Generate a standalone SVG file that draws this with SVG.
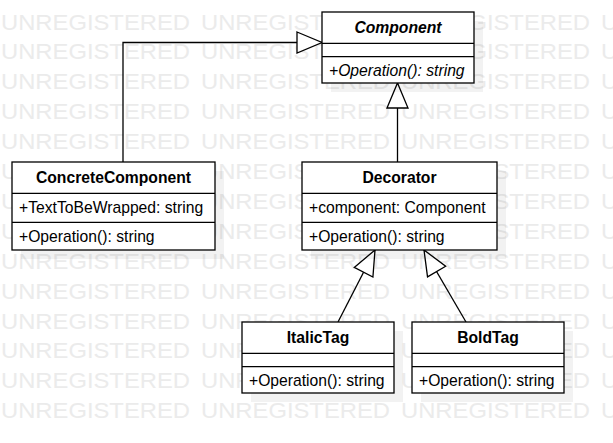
<svg xmlns="http://www.w3.org/2000/svg" width="613" height="443" viewBox="0 0 613 443">
<style>
.wm{font-family:"Liberation Sans",Arial,sans-serif;font-size:22.5px;fill:#ebebeb}
.box{fill:#fff;stroke:#000;stroke-width:1.3}
.sh{fill:#000;fill-opacity:0.05}
.div{stroke:#000;stroke-width:1.3}
.t{font-family:"Liberation Sans",Arial,sans-serif;font-size:15.7px;fill:#000}
.title{font-weight:bold;text-anchor:middle}
.it{font-style:italic}
.edge{fill:none;stroke:#000;stroke-width:1.3}
</style>
<defs>
<marker id="gen" markerUnits="userSpaceOnUse" markerWidth="30" markerHeight="26" viewBox="-27 -13 30 26" refX="0" refY="0" orient="auto" overflow="visible">
<path d="M-25,-10.5 L0,0 L-25,10.5 Z" fill="#fff" stroke="#000" stroke-width="1.3"/>
</marker>
</defs>
<rect width="613" height="443" fill="#fff"/>
<g id="watermark">
<text class="wm" x="1" y="29.5" textLength="189" lengthAdjust="spacingAndGlyphs">UNREGISTERED</text><text class="wm" x="201" y="29.5" textLength="189" lengthAdjust="spacingAndGlyphs">UNREGISTERED</text><text class="wm" x="401" y="29.5" textLength="189" lengthAdjust="spacingAndGlyphs">UNREGISTERED</text><text class="wm" x="601" y="29.5" textLength="189" lengthAdjust="spacingAndGlyphs">UNREGISTERED</text>
<text class="wm" x="1" y="59.4" textLength="189" lengthAdjust="spacingAndGlyphs">UNREGISTERED</text><text class="wm" x="201" y="59.4" textLength="189" lengthAdjust="spacingAndGlyphs">UNREGISTERED</text><text class="wm" x="401" y="59.4" textLength="189" lengthAdjust="spacingAndGlyphs">UNREGISTERED</text><text class="wm" x="601" y="59.4" textLength="189" lengthAdjust="spacingAndGlyphs">UNREGISTERED</text>
<text class="wm" x="1" y="89.3" textLength="189" lengthAdjust="spacingAndGlyphs">UNREGISTERED</text><text class="wm" x="201" y="89.3" textLength="189" lengthAdjust="spacingAndGlyphs">UNREGISTERED</text><text class="wm" x="401" y="89.3" textLength="189" lengthAdjust="spacingAndGlyphs">UNREGISTERED</text><text class="wm" x="601" y="89.3" textLength="189" lengthAdjust="spacingAndGlyphs">UNREGISTERED</text>
<text class="wm" x="1" y="119.2" textLength="189" lengthAdjust="spacingAndGlyphs">UNREGISTERED</text><text class="wm" x="201" y="119.2" textLength="189" lengthAdjust="spacingAndGlyphs">UNREGISTERED</text><text class="wm" x="401" y="119.2" textLength="189" lengthAdjust="spacingAndGlyphs">UNREGISTERED</text><text class="wm" x="601" y="119.2" textLength="189" lengthAdjust="spacingAndGlyphs">UNREGISTERED</text>
<text class="wm" x="1" y="149.1" textLength="189" lengthAdjust="spacingAndGlyphs">UNREGISTERED</text><text class="wm" x="201" y="149.1" textLength="189" lengthAdjust="spacingAndGlyphs">UNREGISTERED</text><text class="wm" x="401" y="149.1" textLength="189" lengthAdjust="spacingAndGlyphs">UNREGISTERED</text><text class="wm" x="601" y="149.1" textLength="189" lengthAdjust="spacingAndGlyphs">UNREGISTERED</text>
<text class="wm" x="1" y="179" textLength="189" lengthAdjust="spacingAndGlyphs">UNREGISTERED</text><text class="wm" x="201" y="179" textLength="189" lengthAdjust="spacingAndGlyphs">UNREGISTERED</text><text class="wm" x="401" y="179" textLength="189" lengthAdjust="spacingAndGlyphs">UNREGISTERED</text><text class="wm" x="601" y="179" textLength="189" lengthAdjust="spacingAndGlyphs">UNREGISTERED</text>
<text class="wm" x="1" y="208.9" textLength="189" lengthAdjust="spacingAndGlyphs">UNREGISTERED</text><text class="wm" x="201" y="208.9" textLength="189" lengthAdjust="spacingAndGlyphs">UNREGISTERED</text><text class="wm" x="401" y="208.9" textLength="189" lengthAdjust="spacingAndGlyphs">UNREGISTERED</text><text class="wm" x="601" y="208.9" textLength="189" lengthAdjust="spacingAndGlyphs">UNREGISTERED</text>
<text class="wm" x="1" y="238.8" textLength="189" lengthAdjust="spacingAndGlyphs">UNREGISTERED</text><text class="wm" x="201" y="238.8" textLength="189" lengthAdjust="spacingAndGlyphs">UNREGISTERED</text><text class="wm" x="401" y="238.8" textLength="189" lengthAdjust="spacingAndGlyphs">UNREGISTERED</text><text class="wm" x="601" y="238.8" textLength="189" lengthAdjust="spacingAndGlyphs">UNREGISTERED</text>
<text class="wm" x="1" y="268.7" textLength="189" lengthAdjust="spacingAndGlyphs">UNREGISTERED</text><text class="wm" x="201" y="268.7" textLength="189" lengthAdjust="spacingAndGlyphs">UNREGISTERED</text><text class="wm" x="401" y="268.7" textLength="189" lengthAdjust="spacingAndGlyphs">UNREGISTERED</text><text class="wm" x="601" y="268.7" textLength="189" lengthAdjust="spacingAndGlyphs">UNREGISTERED</text>
<text class="wm" x="1" y="298.6" textLength="189" lengthAdjust="spacingAndGlyphs">UNREGISTERED</text><text class="wm" x="201" y="298.6" textLength="189" lengthAdjust="spacingAndGlyphs">UNREGISTERED</text><text class="wm" x="401" y="298.6" textLength="189" lengthAdjust="spacingAndGlyphs">UNREGISTERED</text><text class="wm" x="601" y="298.6" textLength="189" lengthAdjust="spacingAndGlyphs">UNREGISTERED</text>
<text class="wm" x="1" y="328.5" textLength="189" lengthAdjust="spacingAndGlyphs">UNREGISTERED</text><text class="wm" x="201" y="328.5" textLength="189" lengthAdjust="spacingAndGlyphs">UNREGISTERED</text><text class="wm" x="401" y="328.5" textLength="189" lengthAdjust="spacingAndGlyphs">UNREGISTERED</text><text class="wm" x="601" y="328.5" textLength="189" lengthAdjust="spacingAndGlyphs">UNREGISTERED</text>
<text class="wm" x="1" y="358.4" textLength="189" lengthAdjust="spacingAndGlyphs">UNREGISTERED</text><text class="wm" x="201" y="358.4" textLength="189" lengthAdjust="spacingAndGlyphs">UNREGISTERED</text><text class="wm" x="401" y="358.4" textLength="189" lengthAdjust="spacingAndGlyphs">UNREGISTERED</text><text class="wm" x="601" y="358.4" textLength="189" lengthAdjust="spacingAndGlyphs">UNREGISTERED</text>
<text class="wm" x="1" y="388.3" textLength="189" lengthAdjust="spacingAndGlyphs">UNREGISTERED</text><text class="wm" x="201" y="388.3" textLength="189" lengthAdjust="spacingAndGlyphs">UNREGISTERED</text><text class="wm" x="401" y="388.3" textLength="189" lengthAdjust="spacingAndGlyphs">UNREGISTERED</text><text class="wm" x="601" y="388.3" textLength="189" lengthAdjust="spacingAndGlyphs">UNREGISTERED</text>
<text class="wm" x="1" y="418.2" textLength="189" lengthAdjust="spacingAndGlyphs">UNREGISTERED</text><text class="wm" x="201" y="418.2" textLength="189" lengthAdjust="spacingAndGlyphs">UNREGISTERED</text><text class="wm" x="401" y="418.2" textLength="189" lengthAdjust="spacingAndGlyphs">UNREGISTERED</text><text class="wm" x="601" y="418.2" textLength="189" lengthAdjust="spacingAndGlyphs">UNREGISTERED</text>
</g>
<g id="connectors">
<path class="edge" d="M123,162 V42.5 H322" marker-end="url(#gen)"/>
<path class="edge" d="M397.5,162 V83" marker-end="url(#gen)"/>
<path class="edge" d="M338,322 L375,250" marker-end="url(#gen)"/>
<path class="edge" d="M466,322 L424,250" marker-end="url(#gen)"/>
</g>
<g id="Component">
<rect class="sh" x="331" y="21" width="152" height="71"/>
<rect class="box" x="322" y="12" width="152" height="71"/>
<line class="div" x1="322" y1="43.3" x2="474" y2="43.3"/>
<line class="div" x1="322" y1="56.7" x2="474" y2="56.7"/>
<text class="t title it" x="398" y="33.2">Component</text>
<text class="t it" x="329" y="75.5">+Operation(): string</text>
</g>
<g id="ConcreteComponent">
<rect class="sh" x="21" y="171" width="203" height="88"/>
<rect class="box" x="12" y="162" width="203" height="88"/>
<line class="div" x1="12" y1="193.3" x2="215" y2="193.3"/>
<line class="div" x1="12" y1="222.3" x2="215" y2="222.3"/>
<text class="t title" x="113.5" y="183">ConcreteComponent</text>
<text class="t" x="19" y="213.3">+TextToBeWrapped: string</text>
<text class="t" x="19" y="241.7">+Operation(): string</text>
</g>
<g id="Decorator">
<rect class="sh" x="311" y="171" width="195" height="88"/>
<rect class="box" x="302" y="162" width="195" height="88"/>
<line class="div" x1="302" y1="193.3" x2="497" y2="193.3"/>
<line class="div" x1="302" y1="222.3" x2="497" y2="222.3"/>
<text class="t title" x="399.5" y="183">Decorator</text>
<text class="t" x="309" y="213.3">+component: Component</text>
<text class="t" x="309" y="241.7">+Operation(): string</text>
</g>
<g id="ItalicTag">
<rect class="sh" x="251" y="331" width="152" height="71"/>
<rect class="box" x="242" y="322" width="152" height="71"/>
<line class="div" x1="242" y1="353.3" x2="394" y2="353.3"/>
<line class="div" x1="242" y1="366.7" x2="394" y2="366.7"/>
<text class="t title" x="318" y="343.3">ItalicTag</text>
<text class="t" x="249" y="385.5">+Operation(): string</text>
</g>
<g id="BoldTag">
<rect class="sh" x="421" y="331" width="152" height="71"/>
<rect class="box" x="412" y="322" width="152" height="71"/>
<line class="div" x1="412" y1="353.3" x2="564" y2="353.3"/>
<line class="div" x1="412" y1="366.7" x2="564" y2="366.7"/>
<text class="t title" x="488" y="343.3">BoldTag</text>
<text class="t" x="419" y="385.5">+Operation(): string</text>
</g>
</svg>
